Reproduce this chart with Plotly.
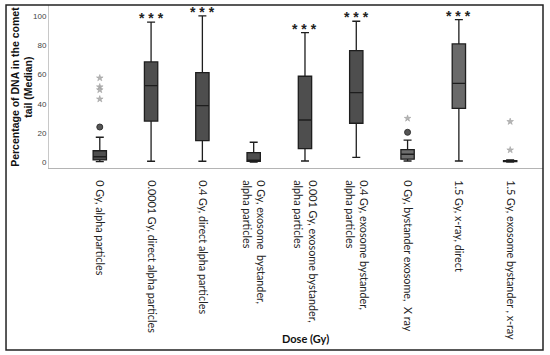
import plotly.graph_objects as go

categories = [
    "0 Gy, alpha particles",
    "0.0001 Gy, direct alpha particles",
    "0.4 Gy, direct alpha particles",
    "0 Gy, exosome  bystander,<br>alpha particles",
    "0.001 Gy, exosome bystander,<br>alpha particles",
    "0.4 Gy, exosome bystander,<br>alpha particles",
    "0 Gy, bystander exosome,  X ray",
    "1.5 Gy, x-ray, direct",
    "1.5 Gy, exosome bystander , x-ray",
]
lower = [0.4, 0.7, 0.7, 0.2, 0.9, 3.4, 0.9, 0.9, 0.2]
q1 = [1.6, 28.2, 14.8, 0.7, 9.3, 26.7, 2.1, 36.9, 0.4]
median = [3.8, 52.4, 38.7, 1.4, 28.9, 47.6, 5.5, 54.0, 0.8]
q3 = [7.9, 68.6, 61.3, 6.6, 58.8, 76.3, 8.6, 80.9, 1.2]
upper = [17.1, 95.8, 100.0, 13.7, 88.6, 96.4, 15.2, 97.5, 1.6]
fills = ["#4e4e4e", "#4e4e4e", "#4e4e4e", "#4e4e4e", "#4e4e4e", "#4e4e4e", "#6e6e6e", "#6a6a6a", "#9a9a9a"]

circle_cat = [categories[0], categories[6]]
circle_val = [24.1, 20.5]
star_cat = [categories[0], categories[0], categories[0], categories[0], categories[6], categories[8], categories[8]]
star_val = [57.6, 51.5, 49.5, 43.2, 30.0, 27.8, 8.4]

signif_cat = [categories[1], categories[2], categories[4], categories[5], categories[7]]
signif_top = [95.8, 100.0, 88.6, 96.4, 97.5]

fig = go.Figure()
for i, c in enumerate(categories):
    fig.add_trace(go.Box(
        x=[c], q1=[q1[i]], median=[median[i]], q3=[q3[i]],
        lowerfence=[lower[i]], upperfence=[upper[i]],
        boxpoints=False, width=0.26, whiskerwidth=0.6,
        fillcolor=fills[i], line=dict(color="#1e1e1e", width=1.3),
        showlegend=False, hoverinfo="skip",
    ))

fig.add_trace(go.Scatter(
    x=circle_cat, y=circle_val, mode="markers",
    marker=dict(symbol="circle", size=6, color="#555555", line=dict(color="#333333", width=1)),
    showlegend=False, cliponaxis=False, hoverinfo="skip",
))
fig.add_trace(go.Scatter(
    x=star_cat, y=star_val, mode="markers",
    marker=dict(symbol="star", size=5, color="#b4b4b4", line=dict(color="#9a9a9a", width=0.5)),
    showlegend=False, cliponaxis=False, hoverinfo="skip",
))

for c, t in zip(signif_cat, signif_top):
    fig.add_annotation(x=c, y=t, text="<b>* * *</b>", showarrow=False, yanchor="bottom",
                       yshift=-6, font=dict(family="Liberation Sans", size=14, color="#222222"))

fig.update_layout(
    width=550, height=355,
    margin=dict(l=49, r=7, t=5, b=187),
    plot_bgcolor="white", paper_bgcolor="white",
    xaxis=dict(
        type="category", categoryorder="array", categoryarray=categories,
        range=[-0.99, 8.64], tickangle=90, ticks="", showgrid=False,
        ticklabelstandoff=9,
        showline=True, linecolor="#b4b4b4", linewidth=1, zeroline=False,
        tickfont=dict(family="Lato", size=10.8, color="#222222"),
    ),
    yaxis=dict(
        range=[-3.9, 107.5], tickvals=[0, 20, 40, 60, 80, 100], ticks="",
        showgrid=False, zeroline=False, showline=True, linecolor="#c8c8c8", linewidth=1,
        tickfont=dict(family="Liberation Sans", size=8, color="#444444"),
    ),
)

fig.add_annotation(xref="paper", yref="paper", x=-0.056, y=0.5, textangle=-90,
                   text="<b>Percentage of DNA in the comet<br>tail (Median)</b>",
                   showarrow=False, xanchor="center", yanchor="middle",
                   font=dict(family="Liberation Sans", size=10.5, color="#111111"))
fig.add_annotation(xref="paper", yref="paper", x=0.52, y=-1.045,
                   text="<b>Dose (Gy)</b>", showarrow=False, xanchor="center", yanchor="middle",
                   font=dict(family="Lato", size=11, color="#111111"))

fig.add_shape(type="rect", xref="paper", yref="paper", x0=-0.087, x1=1.0, y0=-1.117, y1=1.0,
              line=dict(color="#222222", width=1.5), fillcolor="rgba(0,0,0,0)", layer="above")

fig.write_html("out.html", config={"displayModeBar": False},
               post_script="document.body.style.margin='0';")
